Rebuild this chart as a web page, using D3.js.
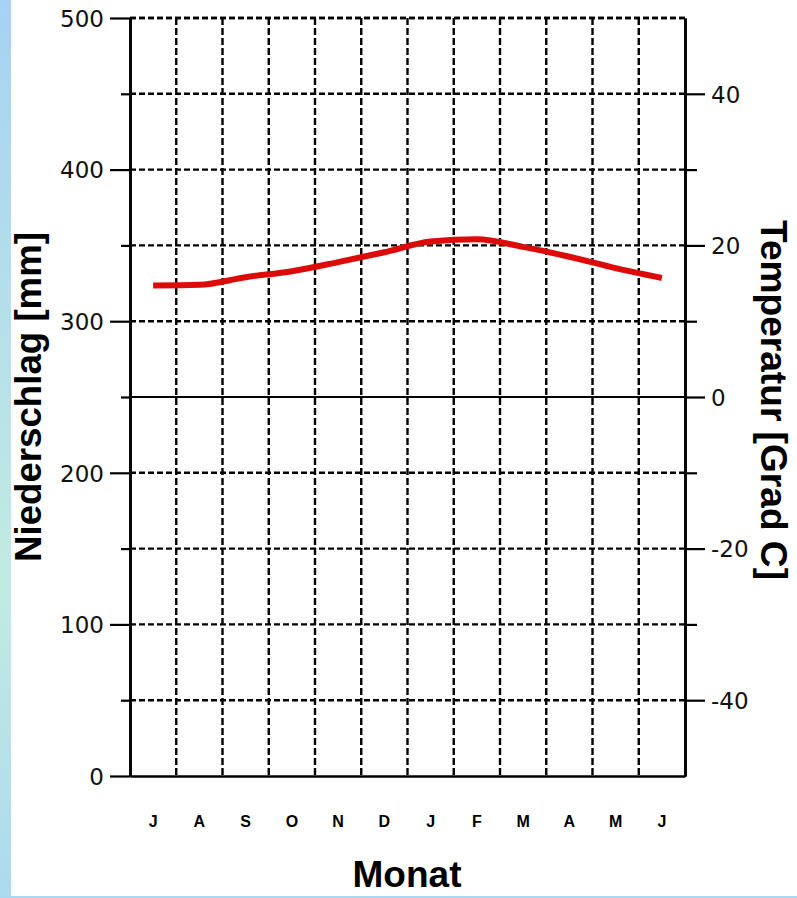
<!DOCTYPE html>
<html>
<head>
<meta charset="utf-8">
<script src="https://cdn.jsdelivr.net/npm/d3@7/dist/d3.min.js"></script>
<style>
  html, body { margin: 0; padding: 0; background: #fff; }
  svg { display: block; }
</style>
</head>
<body>
<svg id="chart" width="797" height="898"></svg>
<script>
// ---- data ----
const months = ["J", "A", "S", "O", "N", "D", "J", "F", "M", "A", "M", "J"];
const temperature = [14.7, 14.8, 15.8, 16.6, 17.8, 19.1, 20.5, 20.8, 19.8, 18.5, 17.0, 15.7];
const precipMajorTicks = [0, 100, 200, 300, 400, 500];
const precipMinorTicks = [50, 150, 250, 350, 450];
const tempMajorTicks = [-40, -20, 0, 20, 40];
const tempMinorTicks = [-30, -10, 10, 30];
const precipDomain = [0, 500];
const tempDomain = [-50, 50];
const xTitle = "Monat";
const yLeftTitle = "Niederschlag [mm]";
const yRightTitle = "Temperatur [Grad C]";

// ---- layout ----
const W = 797, H = 898;
const L = 130, R = 685, T = 18, B = 776;

const svg = d3.select("#chart");

// background strips
const defs = svg.append("defs");
const grad = defs.append("linearGradient").attr("id", "stripGrad")
  .attr("x1", 0).attr("y1", 0).attr("x2", 0).attr("y2", 1);
grad.append("stop").attr("offset", "0%").attr("stop-color", "#a6d2f4");
grad.append("stop").attr("offset", "65%").attr("stop-color", "#c1ebe1");
grad.append("stop").attr("offset", "100%").attr("stop-color", "#acdaee");

svg.append("rect").attr("x", 0).attr("y", 0).attr("width", W).attr("height", H).attr("fill", "#fff");

const idx = d3.range(months.length);
const x = d3.scaleBand().domain(idx).range([L, R]).paddingInner(0).paddingOuter(0);
const yP = d3.scaleLinear().domain(precipDomain).range([B, T]);
const yT = d3.scaleLinear().domain(tempDomain).range([B, T]);

const ink = "#000";

// horizontal dashed grid lines
const gridVals = precipMinorTicks.concat(precipMajorTicks).filter(v => v !== 0 && v !== 250);
svg.append("g").selectAll("line").data(gridVals).join("line")
  .attr("x1", L).attr("x2", R)
  .attr("y1", d => yP(d)).attr("y2", d => yP(d))
  .attr("stroke", ink).attr("stroke-width", 2.4)
  .attr("stroke-dasharray", "6,3");

// vertical dashed grid lines at month boundaries
svg.append("g").selectAll("line").data(idx.slice(1)).join("line")
  .attr("x1", d => x(d)).attr("x2", d => x(d))
  .attr("y1", T).attr("y2", B)
  .attr("stroke", ink).attr("stroke-width", 2.4)
  .attr("stroke-dasharray", "7,3");

// zero degree line
svg.append("line")
  .attr("x1", L).attr("x2", R)
  .attr("y1", yT(0)).attr("y2", yT(0))
  .attr("stroke", ink).attr("stroke-width", 2.2);

function styleAxis(g) {
  g.selectAll("path.domain").attr("stroke", ink).attr("stroke-width", 2.6);
  g.selectAll(".tick line").attr("stroke", ink).attr("stroke-width", 2.2);
}

// left axis (precipitation)
const gl = svg.append("g").attr("transform", `translate(${L},0)`)
  .call(d3.axisLeft(yP).tickValues(precipMajorTicks).tickSize(20).tickSizeOuter(0).tickPadding(6));
styleAxis(gl);
gl.selectAll(".tick text")
  .attr("font-family", "DejaVu Sans")
  .attr("font-size", 23).attr("fill", "#111").attr("dy", "0.36em");
const gl2 = svg.append("g").attr("transform", `translate(${L},0)`)
  .call(d3.axisLeft(yP).tickValues(precipMinorTicks).tickSize(9).tickSizeOuter(0).tickFormat(""));
styleAxis(gl2);

// right axis (temperature)
const gr = svg.append("g").attr("transform", `translate(${R},0)`)
  .call(d3.axisRight(yT).tickValues(tempMajorTicks).tickSize(20).tickSizeOuter(0).tickPadding(6)
    .tickFormat(d => String(d)));
styleAxis(gr);
gr.selectAll(".tick text")
  .attr("font-family", "DejaVu Sans")
  .attr("font-size", 23).attr("fill", "#111").attr("dy", "0.36em");
const gr2 = svg.append("g").attr("transform", `translate(${R},0)`)
  .call(d3.axisRight(yT).tickValues(tempMinorTicks).tickSize(12).tickSizeOuter(0).tickFormat(""));
styleAxis(gr2);

// bottom axis
const gb = svg.append("g").attr("transform", `translate(0,${B})`)
  .call(d3.axisBottom(x).tickSize(0).tickPadding(40).tickFormat(i => months[i]));
gb.selectAll("path.domain").attr("stroke", ink).attr("stroke-width", 2.6);
gb.selectAll(".tick text")
  .attr("font-family", "Liberation Sans, Arial, sans-serif")
  .attr("font-weight", "bold").attr("font-size", 16).attr("fill", ink);

// top dashed border
svg.append("line").attr("x1", L).attr("x2", R).attr("y1", T).attr("y2", T)
  .attr("stroke", ink).attr("stroke-width", 2.4).attr("stroke-dasharray", "6,3");

// temperature line
const line = d3.line()
  .x((d, i) => x(i) + x.bandwidth() / 2)
  .y(d => yT(d))
  .curve(d3.curveMonotoneX);
svg.append("path").datum(temperature)
  .attr("d", line)
  .attr("fill", "none")
  .attr("stroke", "#dd0a0a")
  .attr("stroke-width", 6)
  .attr("stroke-linecap", "butt")
  .attr("stroke-linejoin", "round");

// titles
const titleFont = "Liberation Sans, Arial, sans-serif";
svg.append("text")
  .attr("x", 407).attr("y", 887)
  .attr("text-anchor", "middle")
  .attr("font-family", titleFont).attr("font-weight", "bold").attr("font-size", 36)
  .attr("textLength", 109).attr("lengthAdjust", "spacingAndGlyphs")
  .attr("fill", ink).text(xTitle);

svg.append("text")
  .attr("transform", "translate(41,397) rotate(-90)")
  .attr("text-anchor", "middle")
  .attr("font-family", titleFont).attr("font-weight", "bold").attr("font-size", 37)
  .attr("textLength", 330).attr("lengthAdjust", "spacingAndGlyphs")
  .attr("fill", ink).text(yLeftTitle);

svg.append("text")
  .attr("transform", "translate(761,400) rotate(90)")
  .attr("text-anchor", "middle")
  .attr("font-family", titleFont).attr("font-weight", "bold").attr("font-size", 36)
  .attr("textLength", 360).attr("lengthAdjust", "spacingAndGlyphs")
  .attr("fill", ink).text(yRightTitle);

// frame strips (left and bottom)
svg.append("rect").attr("x", 0).attr("y", 0).attr("width", 11).attr("height", H).attr("fill", "url(#stripGrad)");
svg.append("rect").attr("x", 0).attr("y", 896).attr("width", W).attr("height", 2).attr("fill", "#a9d7ef");
</script>
</body>
</html>
